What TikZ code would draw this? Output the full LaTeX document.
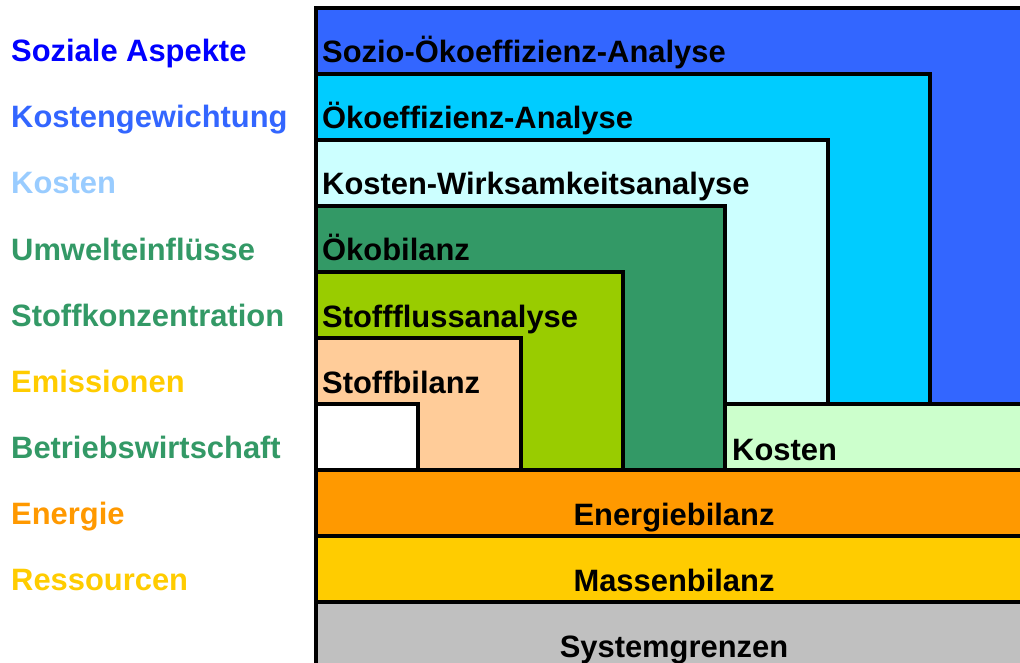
\documentclass[tikz,border=0pt]{standalone}
\usepackage{fontspec}
\setmainfont{Liberation Sans}[Ligatures=CommonOff]
\definecolor{cSozio}{HTML}{3366FF}
\definecolor{cOeko}{HTML}{00CCFF}
\definecolor{cKW}{HTML}{CCFFFF}
\definecolor{cOekobil}{HTML}{339966}
\definecolor{cFluss}{HTML}{99CC00}
\definecolor{cStoff}{HTML}{FFCC99}
\definecolor{cKosten}{HTML}{CCFFCC}
\definecolor{cEnergie}{HTML}{FF9900}
\definecolor{cMasse}{HTML}{FFCC00}
\definecolor{cSystem}{HTML}{C0C0C0}
\definecolor{cBlue}{HTML}{0000FF}
\definecolor{cLight}{HTML}{99CCFF}
\begin{document}
\begin{tikzpicture}[x=1pt,y=-1pt,
  box/.style={draw=black,line width=4pt,line join=miter},
  lbl/.style={inner sep=0pt,anchor=base west,font=\fontsize{30.9}{30.9}\selectfont\bfseries},
  clbl/.style={inner sep=0pt,anchor=base,font=\fontsize{30.9}{30.9}\selectfont\bfseries}]
\useasboundingbox (0,0) rectangle (1020,663);
\fill[white] (0,0) rectangle (1020,663);
\begin{scope}
\clip (0,0) rectangle (1020,663);
% nested boxes
\path[box,fill=cSozio]   (316,8)   rectangle (1040,470);
\path[box,fill=cOeko]    (316,74)  rectangle (930,470);
\path[box,fill=cKW]      (316,140) rectangle (828,470);
\path[box,fill=cKosten]  (725,404) rectangle (1040,470);
\path[box,fill=cOekobil] (316,206) rectangle (725,470);
\path[box,fill=cFluss]   (316,272) rectangle (623,470);
\path[box,fill=cStoff]   (316,338) rectangle (521,470);
\path[box,fill=white]    (316,404) rectangle (418,470);
% base bands
\path[box,fill=cEnergie] (316,470) rectangle (1040,536);
\path[box,fill=cMasse]   (316,536) rectangle (1040,602);
\path[box,fill=cSystem]  (316,602) rectangle (1040,680);
\end{scope}
% box labels
\node[lbl] (tSozio)  at (322,63)  {Sozio-Ökoeffizienz-Analyse};
\node[lbl] (tOeko)   at (322,129) {Ökoeffizienz-Analyse};
\node[lbl] (tKW)     at (322,195) {Kosten-Wirksamkeitsanalyse};
\node[lbl] (tObil)   at (322,261) {Ökobilanz};
\node[lbl] (tFluss)  at (322,327) {Stoffflussanalyse};
\node[lbl] (tStoff)  at (322,393) {Stoffbilanz};
\node[lbl] (tKosten) at (732,460) {Kosten};
\node[clbl] (tEnergie) at (674,525) {Energiebilanz};
\node[clbl] (tMasse)   at (674,591) {Massenbilanz};
\node[clbl] (tSystem)  at (674,657) {Systemgrenzen};
% left labels
\node[lbl,text=cBlue]    (l1) at (11,62)  {Soziale Aspekte};
\node[lbl,text=cSozio]   (l2) at (11,128) {Kostengewichtung};
\node[lbl,text=cLight]   (l3) at (11,194) {Kosten};
\node[lbl,text=cOekobil] (l4) at (11,260) {Umwelteinflüsse};
\node[lbl,text=cOekobil] (l5) at (11,326) {Stoffkonzentration};
\node[lbl,text=cMasse]   (l6) at (11,392) {Emissionen};
\node[lbl,text=cOekobil] (l7) at (11,458) {Betriebswirtschaft};
\node[lbl,text=cEnergie] (l8) at (11,524) {Energie};
\node[lbl,text=cMasse]   (l9) at (11,590) {Ressourcen};
\end{tikzpicture}
\end{document}
